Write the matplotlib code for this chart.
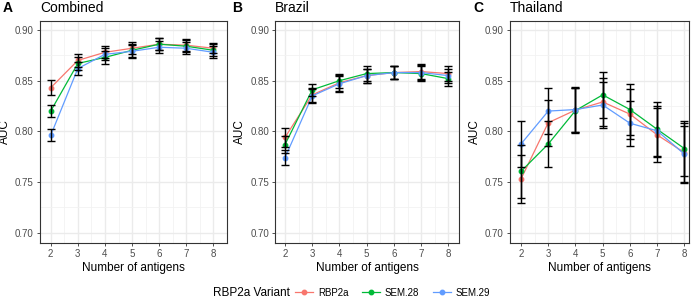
#! /usr/bin/env python
# -*- coding: utf-8 -*-

import matplotlib
matplotlib.use("Agg")
import matplotlib.pyplot as plt
from matplotlib.lines import Line2D
import numpy as np

plt.rcParams['font.family'] = ['Liberation Sans', 'DejaVu Sans']

# number of antigens
n_antigens = [2, 3, 4, 5, 6, 7, 8]

variants = ["RBP2a", "SEM.28", "SEM.29"]
colors = ["#F8766D", "#00BA38", "#619CFF"]

# Combined
combined_rbp2a = [0.843, 0.870, 0.878, 0.882, 0.886, 0.885, 0.882]
combined_sem28 = [0.820, 0.867, 0.873, 0.880, 0.886, 0.884, 0.880]
combined_sem29 = [0.796, 0.862, 0.876, 0.879, 0.883, 0.882, 0.878]
combined_rbp2a_err = [0.0075, 0.0065, 0.006, 0.006, 0.006, 0.006, 0.005]
combined_sem28_err = [0.006, 0.0065, 0.0065, 0.0065, 0.006, 0.006, 0.006]
combined_sem29_err = [0.006, 0.0065, 0.006, 0.0065, 0.006, 0.006, 0.006]

# Brazil
brazil_rbp2a = [0.794, 0.836, 0.848, 0.855, 0.858, 0.859, 0.857]
brazil_sem28 = [0.787, 0.841, 0.850, 0.857, 0.858, 0.857, 0.852]
brazil_sem29 = [0.774, 0.835, 0.847, 0.855, 0.858, 0.858, 0.855]
brazil_rbp2a_err = [0.009, 0.007, 0.008, 0.007, 0.0065, 0.007, 0.007]
brazil_sem28_err = [0.008, 0.006, 0.007, 0.007, 0.0065, 0.007, 0.007]
brazil_sem29_err = [0.0075, 0.007, 0.008, 0.007, 0.0065, 0.007, 0.007]

# Thailand
thailand_rbp2a = [0.753, 0.8085, 0.821, 0.829, 0.817, 0.7965, 0.779]
thailand_sem28 = [0.7605, 0.7875, 0.8205, 0.836, 0.8215, 0.802, 0.783]
thailand_sem29 = [0.7875, 0.820, 0.8215, 0.826, 0.808, 0.8005, 0.7775]
thailand_rbp2a_err = [0.024, 0.0225, 0.022, 0.024, 0.025, 0.027, 0.029]
thailand_sem28_err = [0.026, 0.023, 0.022, 0.0225, 0.025, 0.027, 0.0275]
thailand_sem29_err = [0.023, 0.0225, 0.022, 0.023, 0.022, 0.0245, 0.028]

panels = [
    ("A", "Combined",
     [combined_rbp2a, combined_sem28, combined_sem29],
     [combined_rbp2a_err, combined_sem28_err, combined_sem29_err]),
    ("B", "Brazil",
     [brazil_rbp2a, brazil_sem28, brazil_sem29],
     [brazil_rbp2a_err, brazil_sem28_err, brazil_sem29_err]),
    ("C", "Thailand",
     [thailand_rbp2a, thailand_sem28, thailand_sem29],
     [thailand_rbp2a_err, thailand_sem28_err, thailand_sem29_err]),
]

W, H = 696, 302
fig = plt.figure(figsize=(W / 100, H / 100), dpi=100)

# panel boxes in pixels: left, right, x range
boxes = [(40, 226.7, (1.605, 8.49)),
         (275.3, 458.7, (1.643, 8.38)),
         (510, 689.3, (1.596, 8.18))]
top, bottom = 21, 243
letter_x = [3, 232, 473]

for (letter, title, series, errs), (l, r, xlim), lx in zip(panels, boxes, letter_x):
    ax = fig.add_axes([l / W, 1 - bottom / H, (r - l) / W, (bottom - top) / H])
    for vals, err, c in zip(series, errs, colors):
        ax.plot(n_antigens, vals, color=c, lw=0.9, marker='o', ms=3.2,
                zorder=3)
    for vals, err in zip(series, errs):
        ax.errorbar(n_antigens, vals, yerr=err, fmt='none', ecolor='black',
                    elinewidth=1.0, capsize=2.6, capthick=1.0, zorder=4)

    ax.set_xlim(xlim)
    ax.set_ylim(0.6898, 0.9089)
    ax.set_xticks(n_antigens)
    ax.set_yticks([0.70, 0.75, 0.80, 0.85, 0.90])
    ax.set_yticklabels(["0.70", "0.75", "0.80", "0.85", "0.90"])
    ax.set_xticks(np.arange(2.5, 8.0, 1.0), minor=True)
    ax.set_yticks([0.725, 0.775, 0.825, 0.875], minor=True)
    ax.grid(True, which='major', color='#EBEBEB', lw=1.0, zorder=0)
    ax.grid(True, which='minor', color='#F2F2F2', lw=0.6, zorder=0)
    ax.set_axisbelow(True)
    ax.tick_params(which='major', length=2.5, width=0.6, color='#333333',
                   labelsize=7, labelcolor='#4D4D4D', pad=2)
    ax.tick_params(which='minor', length=0)
    for s in ax.spines.values():
        s.set_color('#333333')
        s.set_linewidth(0.8)

    ax.set_xlabel("Number of antigens", fontsize=8.5, labelpad=2)
    ax.set_ylabel("AUC", fontsize=8.5, labelpad=3)

    fig.text(lx / W, 1 - 8 / H, letter, fontsize=10, fontweight='bold',
             ha='left', va='center')
    fig.text(l / W, 1 - 8 / H, title, fontsize=10, ha='left', va='center')

# legend along the bottom
fig.text(213 / W, 1 - 292.5 / H, "RBP2a Variant", fontsize=8.5,
         ha='left', va='center')
handles = [Line2D([], [], color=c, lw=0.9, marker='o', ms=3.2) for c in colors]
fig.legend(handles, variants, loc='center left',
           bbox_to_anchor=(295 / W, 1 - 292.5 / H), ncol=3, frameon=False,
           fontsize=7, handlelength=1.9, handletextpad=0.45,
           columnspacing=1.4, borderaxespad=0, borderpad=0)

plt.savefig("out.png", dpi=100)
